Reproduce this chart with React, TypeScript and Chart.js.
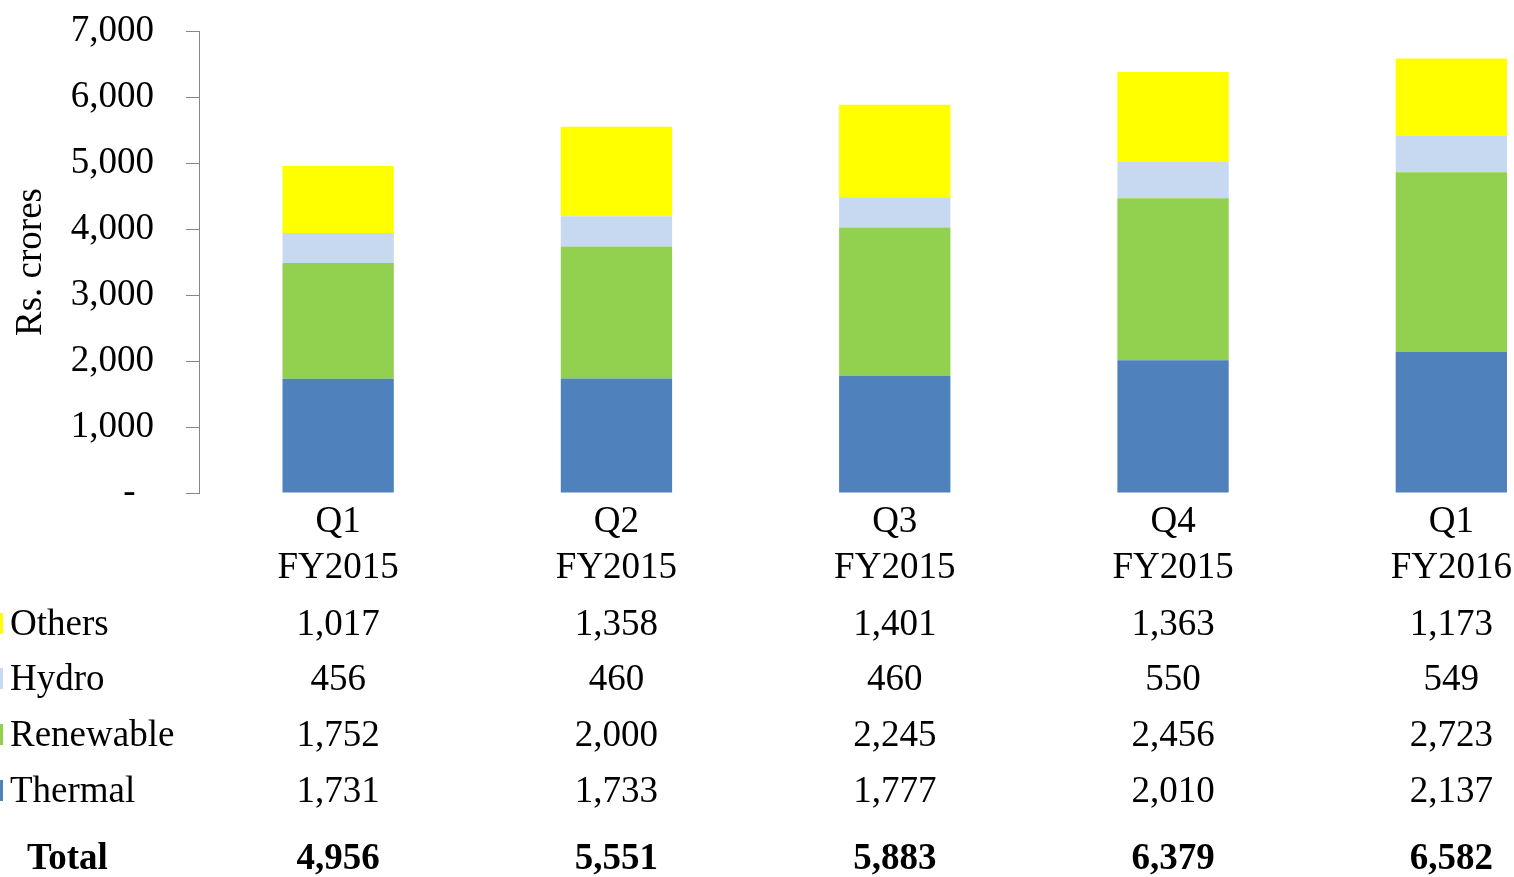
import React, { useEffect, useRef } from "react";
import { Chart, registerables } from "chart.js";

Chart.register(...registerables);

const quarterLabels = ["Q1", "Q2", "Q3", "Q4", "Q1"];
const yearLabels = ["FY2015", "FY2015", "FY2015", "FY2015", "FY2016"];
const thermal = [1731, 1733, 1777, 2010, 2137];
const renewable = [1752, 2000, 2245, 2456, 2723];
const hydro = [456, 460, 460, 550, 549];
const others = [1017, 1358, 1401, 1363, 1173];
const totals = [4956, 5551, 5883, 6379, 6582];
const yTickValues = [0, 1000, 2000, 3000, 4000, 5000, 6000, 7000];

const COLORS = {
  Thermal: "#4F81BD",
  Renewable: "#92D050",
  Hydro: "#C6D9F1",
  Others: "#FFFF00",
};

const FONT = "'Liberation Serif', 'Times New Roman', serif";
const FS = 37;

const fmt = (v: number) => v.toLocaleString("en-US");

const tablePlugin = {
  id: "dataTable",
  afterDraw(chart: any) {
    const ctx = chart.ctx as CanvasRenderingContext2D;
    const xs = chart.scales.x;
    ctx.save();
    ctx.fillStyle = "#000";
    ctx.textBaseline = "alphabetic";
    ctx.font = `${FS}px ${FONT}`;
    ctx.textAlign = "center";
    const rows: [string, number[], number][] = [
      ["Others", others, 635],
      ["Hydro", hydro, 690],
      ["Renewable", renewable, 746],
      ["Thermal", thermal, 802],
    ];
    quarterLabels.forEach((q, i) => {
      const x = xs.getPixelForValue(i);
      ctx.fillText(q, x, 532);
      ctx.fillText(yearLabels[i], x, 578);
      rows.forEach(([, vals, y]) => ctx.fillText(fmt(vals[i]), x, y));
    });
    ctx.textAlign = "left";
    rows.forEach(([name, , y]) => {
      ctx.fillStyle = (COLORS as any)[name];
      ctx.fillRect(0, y - 22, 3, 21);
      ctx.fillStyle = "#000";
      ctx.fillText(name, 10, y);
    });
    ctx.font = `bold ${FS}px ${FONT}`;
    ctx.fillText("Total", 27, 869);
    ctx.textAlign = "center";
    totals.forEach((t, i) => {
      ctx.fillText(fmt(t), xs.getPixelForValue(i), 869);
    });
    ctx.restore();
  },
};

export default function App() {
  const ref = useRef<HTMLCanvasElement | null>(null);
  useEffect(() => {
    if (!ref.current) return;
    const mk = (arr: number[]) => arr.map((v, i) => ({ x: i, y: v }));
    const chart = new Chart(ref.current, {
      type: "bar",
      data: {
        datasets: [
          { label: "Thermal", data: mk(thermal), backgroundColor: COLORS.Thermal },
          { label: "Renewable", data: mk(renewable), backgroundColor: COLORS.Renewable },
          { label: "Hydro", data: mk(hydro), backgroundColor: COLORS.Hydro },
          { label: "Others", data: mk(others), backgroundColor: COLORS.Others },
        ],
      },
      options: {
        responsive: false,
        animation: false,
        layout: { padding: { left: 0, right: 0, top: 31, bottom: 877 - 493 } },
        plugins: { legend: { display: false }, tooltip: { enabled: false } },
        datasets: { bar: { categoryPercentage: 1, barPercentage: 0.4, borderWidth: 0 } },
        scales: {
          x: {
            type: "linear",
            stacked: true,
            display: false,
            offset: false,
            min: -0.5,
            max: -0.5 + (1514 - 199) / 278.3,
            afterBuildTicks: (s: any) => {
              s.ticks = quarterLabels.map((_, i) => ({ value: i }));
            },
          },
          y: {
            stacked: true,
            min: 0,
            max: 7000,
            afterBuildTicks: (s: any) => {
              s.ticks = yTickValues.map((v) => ({ value: v }));
            },
            afterFit: (s: any) => {
              s.width = 199;
              s.paddingTop = 0;
              s.paddingBottom = 0;
            },
            ticks: {
              color: "#000",
              font: { family: FONT, size: FS },
              padding: 32,
              callback: (v: any) => (Number(v) === 0 ? "-\u00A0\u00A0" : fmt(Number(v))),
            },
            grid: {
              drawOnChartArea: false,
              drawTicks: true,
              tickLength: 13,
              color: "#868686",
            },
            border: { display: true, color: "#868686", width: 1 },
            title: {
              display: true,
              text: "Rs. crores",
              color: "#000",
              font: { family: FONT, size: FS },
              padding: { top: 9, bottom: 0 },
            },
          },
        },
      },
      plugins: [tablePlugin],
    } as any);
    return () => chart.destroy();
  }, []);
  return (
    <div style={{ position: "absolute", left: 0, top: 0, width: 1514, height: 877, overflow: "hidden" }}>
      <canvas ref={ref} width={1514} height={877} style={{ display: "block" }} />
    </div>
  );
}
